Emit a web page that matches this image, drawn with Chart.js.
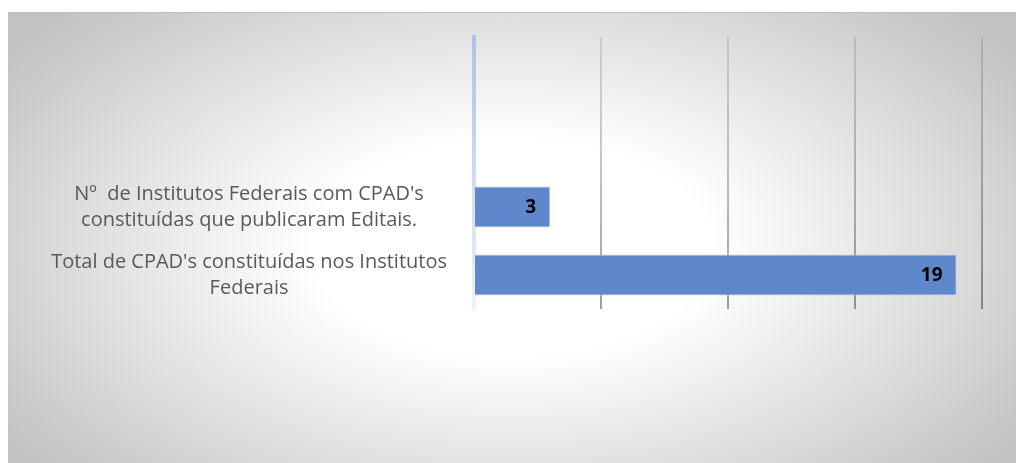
<!DOCTYPE html>
<html>
<head>
<meta charset="utf-8">
<script src="https://cdn.jsdelivr.net/npm/chart.js@4"></script>
<style>
  html, body { margin: 0; padding: 0; background: #ffffff; }
  #box {
    position: absolute; left: 8px; top: 12px; width: 1008px; height: 451px;
    border-top: 1px solid #bdbdbd; box-sizing: border-box;
    background: radial-gradient(ellipse 620px 340px at 504px 235px, #ffffff 0%, #ffffff 32%, #c2c2c2 100%);
  }
  #myChart { display: block; }
</style>
</head>
<body>
<div id="box"><canvas id="myChart" width="1008" height="450"></canvas></div>
<script>
// categories (two empty slots on top, as in the original sheet)
var categories = [
  '',
  '',
  ["N\u00ba  de Institutos Federais com CPAD's", "constitu\u00eddas que publicaram Editais."],
  ["Total de CPAD's constitu\u00eddas nos Institutos", "Federais"]
];
var values = [null, null, 3, 19];
var axisMin = 0, axisMax = 20, axisStep = 5;

var ctx = document.getElementById('myChart').getContext('2d');

// gradients for axis line and grid lines
var axisGrad = ctx.createLinearGradient(0, 24, 0, 296);
axisGrad.addColorStop(0, '#aec3e6');
axisGrad.addColorStop(1, '#eef2fa');
var gridGrad = ctx.createLinearGradient(0, 24, 0, 296);
gridGrad.addColorStop(0, 'rgba(0,0,0,0.10)');
gridGrad.addColorStop(1, 'rgba(0,0,0,0.38)');

// value labels at the inner end of each bar
var endLabels = {
  id: 'endLabels',
  afterDatasetsDraw: function (chart) {
    var c = chart.ctx;
    var meta = chart.getDatasetMeta(0);
    c.save();
    c.font = 'bold 19px "Open Sans", sans-serif';
    c.fillStyle = '#000000';
    c.textAlign = 'right';
    c.textBaseline = 'middle';
    meta.data.forEach(function (bar, i) {
      var v = values[i];
      if (v === null) return;
      c.fillText(String(v), bar.x - 14, bar.y + 1);
    });
    c.restore();
  }
};

new Chart(ctx, {
  type: 'bar',
  data: {
    labels: categories,
    datasets: [{
      data: values,
      backgroundColor: '#5f87cc',
      borderColor: '#b3c6ea',
      borderWidth: 1,
      borderSkipped: 'start',
      categoryPercentage: 1,
      barPercentage: 0.6
    }]
  },
  options: {
    indexAxis: 'y',
    responsive: false,
    animation: false,
    layout: { padding: { left: 0, right: 34, top: 24, bottom: 154 } },
    plugins: { legend: { display: false }, tooltip: { enabled: false } },
    scales: {
      x: {
        min: axisMin, max: axisMax,
        ticks: { display: false, stepSize: axisStep },
        grid: { color: gridGrad, lineWidth: 2, drawTicks: false },
        border: { display: false }
      },
      y: {
        grid: { display: false, drawTicks: false },
        border: { display: true, color: axisGrad, width: 4 },
        afterFit: function (scale) {
          scale.width = 466;
          scale.paddingTop = 0;
          scale.paddingBottom = 0;
        },
        ticks: {
          crossAlign: 'center',
          padding: 27,
          color: '#595959',
          font: { family: '"Open Sans", sans-serif', size: 20, lineHeight: 1.32 }
        }
      }
    }
  },
  plugins: [endLabels]
});
</script>
</body>
</html>
